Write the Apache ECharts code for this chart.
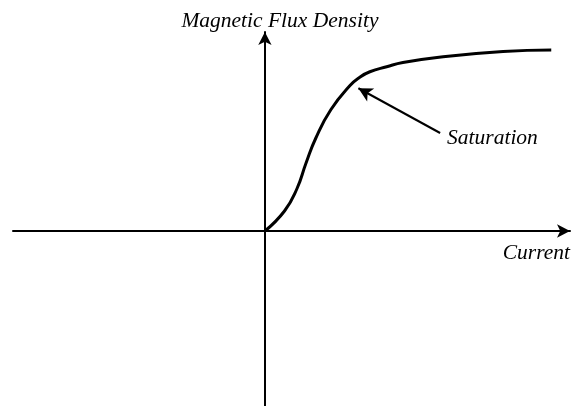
<!DOCTYPE html>
<html>
<head>
<meta charset="utf-8">
<script src="https://cdn.jsdelivr.net/npm/echarts@6/dist/echarts.min.js"></script>
<style>
  html, body { margin: 0; padding: 0; background: #fff; }
  #chart { width: 579px; height: 406px; }
</style>
</head>
<body>
<div id="chart"></div>
<script>
// magnetisation curve (arbitrary units)
var current = [0, 0.70, 1.14, 1.47, 1.82, 2.36, 3.04, 3.40, 3.75, 4.35, 4.93, 6.15, 8.51, 10.23]
var fluxDensity = [0, 0.80, 1.68, 2.72, 3.72, 4.86, 5.82, 6.16, 6.37, 6.57, 6.74, 6.94, 7.18, 7.24]

// annotation: arrow from the label to the knee of the curve
var arrowTail = [6.26, 3.92]
var arrowTip = [3.34, 5.71]
var labelAt = [6.33, 3.72]
var labelText = 'Saturation'

var xName = 'Current'
var yName = 'Magnetic Flux Density'

var font = 'Liberation Serif'
var fontSize = 21.5

var chart = echarts.init(document.getElementById('chart'), null, { renderer: 'canvas' })

chart.setOption({
  animation: false,
  backgroundColor: '#fff',
  grid: {
    left: 13,
    right: 9,
    top: 32,
    bottom: 0
  },
  xAxis: {
    type: 'value',
    min: -9,
    max: 10.9,
    name: xName,
    nameLocation: 'end',
    nameGap: 0,
    nameTextStyle: {
      fontFamily: font,
      fontStyle: 'italic',
      fontSize: fontSize,
      color: '#000',
      align: 'right',
      verticalAlign: 'top',
      lineHeight: 22,
      padding: [11, 0, 0, 0]
    },
    axisLine: {
      onZero: true,
      symbol: ['none', 'arrow'],
      symbolSize: [10, 13],
      lineStyle: { color: '#000', width: 2 }
    },
    axisTick: { show: false },
    axisLabel: { show: false },
    splitLine: { show: false }
  },
  yAxis: {
    type: 'value',
    min: -7,
    max: 7.96,
    name: yName,
    nameLocation: 'end',
    nameGap: 0,
    nameTextStyle: {
      fontFamily: font,
      fontStyle: 'italic',
      fontSize: fontSize,
      color: '#000',
      lineHeight: 22,
      padding: [0, 0, 0, 30]
    },
    axisLine: {
      onZero: true,
      symbol: ['none', 'arrow'],
      symbolSize: [10, 13],
      lineStyle: { color: '#000', width: 2 }
    },
    axisTick: { show: false },
    axisLabel: { show: false },
    splitLine: { show: false }
  },
  series: [{
    name: 'B-H',
    type: 'line',
    data: current.map(function (c, i) { return [c, fluxDensity[i]] }),
    smooth: 0.5,
    showSymbol: false,
    lineStyle: { color: '#000', width: 3 },
    markLine: {
      silent: true,
      symbol: ['none', 'arrow'],
      symbolSize: [11, 14],
      label: { show: false },
      lineStyle: { color: '#000', width: 2, type: 'solid' },
      data: [[{ coord: arrowTail }, { coord: arrowTip }]]
    }
  }, {
    name: 'label',
    type: 'scatter',
    data: [labelAt],
    symbolSize: 0,
    itemStyle: { opacity: 1 },
    label: {
      show: true,
      position: 'right',
      distance: 5,
      formatter: labelText,
      fontFamily: font,
      fontStyle: 'italic',
      fontSize: fontSize,
      color: '#000',
      opacity: 1
    }
  }]
})
</script>
</body>
</html>
